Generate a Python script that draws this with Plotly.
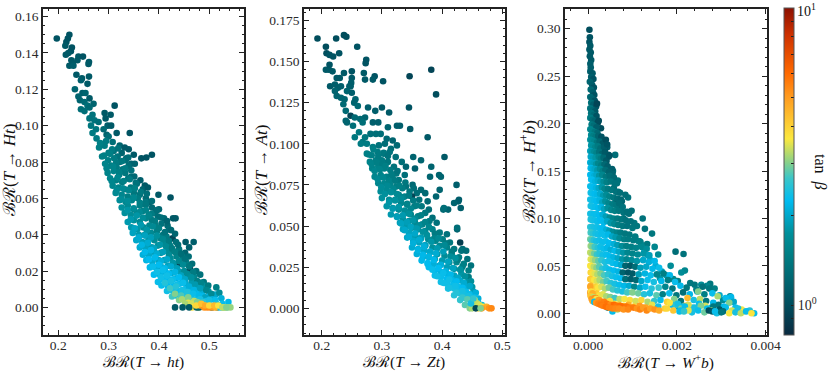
from plotly.subplots import make_subplots
import plotly.graph_objs as go
import numpy as np

# BR(T -> ht) vs BR(T -> Ht)
ht_x = [
.197,.222,.219,.216,.214,.227,.225,.220,.215,.240,
.249,.226,.261,.260,.222,.229,.238,.230,.236,.247,
.261,.245,.258,.233,.248,.254,.240,.262,.243,.252,
.270,.258,.312,.262,.245,.252,.292,.304,.268,.294,
.262,.272,.280,.265,.298,.305,.275,.342,.290,.268,
.316,.296,.276,.300,.285,.308,.322,.332,.365,.375,
.386,.281,.292,.310,.326,.340,.300,.318,.335,.350,
.287,.299,.311,.322,.334,.345,.293,.305,.316,.328,
.340,.352,.298,.310,.321,.333,.345,.303,.315,.327,
.339,.351,.363,.372,.308,.320,.332,.344,.356,.368,
.378,.314,.326,.338,.350,.362,.374,.399,.322,.334,
.346,.358,.370,.382,.326,.338,.350,.362,.374,.386,
.423,.332,.344,.356,.368,.380,.392,.400,.338,.350,
.362,.374,.386,.398,.410,.428,.345,.357,.369,.381,
.393,.405,.417,.348,.360,.372,.384,.396,.408,.420,
.433,.355,.367,.379,.391,.403,.415,.427,.453,.362,
.374,.386,.398,.410,.422,.434,.469,.368,.380,.392,
.404,.416,.428,.440,.452,.460,.375,.387,.399,.411,
.423,.435,.447,.459,.382,.394,.406,.418,.430,.442,
.454,.466,.390,.402,.414,.426,.438,.450,.462,.474,
.398,.410,.422,.434,.446,.458,.470,.482,.405,.417,
.429,.441,.453,.465,.477,.489,.416,.428,.440,.452,
.464,.476,.488,.498,.426,.438,.450,.462,.474,.486,
.498,.514,.440,.452,.464,.476,.488,.500,.512,.520,
.283,.295,.307,.319,.291,.303,.315,.327,.339,.296,
.309,.321,.333,.345,.306,.318,.330,.342,.354,.316,
.328,.340,.352,.364,.376,.326,.338,.350,.362,.374,
.386,.338,.350,.362,.374,.386,.396,.344,.356,.368,
.380,.392,.404,.416,.352,.364,.376,.388,.400,.412,
.424,.360,.372,.384,.396,.408,.420,.432,.366,.378,
.390,.402,.414,.426,.438,.372,.384,.396,.408,.420,
.432,.444,.380,.392,.404,.416,.428,.440,.452,.388,
.400,.412,.424,.436,.448,.460,.396,.408,.420,.432,
.444,.456,.468,.404,.416,.428,.440,.452,.464,.476,
.412,.424,.436,.448,.460,.472,.484,.422,.434,.446,
.458,.470,.482,.494,.432,.444,.456,.468,.480,.492,
.504,.446,.458,.470,.482,.494,.506,.458,.470,.482,
.452,.464,.476,.488,.500,.512,.524,.466,.478,.490,
.502,.514,.526,.538,.432,.447,.460,.475,.480,.505,
.516,.528,.536,.542,.482,.490,.496,.502,.508,.514,
.522,.530,.474,.484,.492,.500,.510,.518,.526,.534,
]
ht_y = [
.148,.150,.148,.146,.144,.143,.141,.140,.139,.138,
.138,.136,.135,.134,.133,.134,.136,.133,.128,.126,
.127,.125,.123,.120,.118,.118,.116,.115,.114,.113,
.112,.111,.111,.110,.109,.108,.107,.106,.106,.104,
.104,.103,.102,.100,.100,.100,.098,.096,.098,.096,
.096,.095,.093,.094,.090,.091,.089,.088,.082,.0825,
.084,.088,.089,.086,.085,.087,.085,.083,.082,.084,
.083,.081,.082,.080,.081,.079,.079,.078,.077,.076,
.078,.079,.074,.075,.073,.074,.072,.071,.070,.069,
.071,.072,.070,.067,.067,.066,.065,.066,.068,.065,
.066,.063,.062,.061,.063,.062,.060,.062,.059,.058,
.059,.060,.057,.058,.055,.056,.054,.056,.058,.055,
.0605,.052,.051,.052,.053,.051,.052,.054,.047,.048,
.047,.049,.048,.050,.049,.049,.044,.043,.044,.045,
.045,.046,.045,.041,.040,.040,.041,.042,.040,.043,
.049,.037,.036,.037,.037,.038,.039,.038,.036,.033,
.033,.033,.034,.035,.034,.036,.036,.029,.029,.030,
.030,.031,.031,.032,.030,.033,.026,.025,.026,.026,
.027,.028,.028,.028,.022,.022,.022,.023,.024,.024,
.025,.024,.018,.018,.019,.019,.020,.020,.021,.020,
.014,.015,.015,.016,.016,.017,.017,.018,.012,.012,
.012,.013,.013,.014,.014,.014,.009,.009,.009,.010,
.010,.011,.012,.012,.006,.006,.007,.007,.008,.008,
.009,.011,.004,.004,.005,.005,.006,.006,.007,.008,
.0905,.0915,.087,.0875,.0835,.0845,.0795,.0805,.0825,.0765,
.0775,.0745,.0765,.0755,.0695,.0715,.0695,.0705,.0685,.0645,
.0655,.0645,.0655,.0635,.0625,.0595,.0585,.0605,.0575,.0565,
.0585,.0535,.0545,.0525,.0535,.0515,.0535,.0485,.0505,.0495,
.0505,.0475,.0495,.0475,.0435,.0455,.0425,.0445,.0435,.0415,
.0425,.0385,.0395,.0385,.0395,.0375,.0365,.0405,.0345,.0355,
.0325,.0345,.0335,.0325,.0345,.0305,.0315,.0295,.0305,.0285,
.0305,.0295,.0265,.0275,.0255,.0265,.0245,.0255,.0265,.0225,
.0235,.0215,.0225,.0215,.0235,.0225,.0195,.0205,.0185,.0195,
.0175,.0185,.0195,.0165,.0175,.0155,.0165,.0155,.0165,.0145,
.0135,.0145,.0125,.0135,.0115,.0125,.0135,.0105,.0115,.0095,
.0085,.0095,.0105,.0095,.0075,.0065,.0085,.0075,.0065,.0055,
.0075,.0045,.0055,.0035,.0045,.0035,.0045,.0025,.0035,.0025,
.002,.002,.003,.003,.004,.004,.005,.000,.000,.001,
.001,.002,.002,.003,.000,.000,.000,.000,.000,.000,
.000,.000,.000,.000,.001,.000,.000,.000,.000,.000,
.000,.000,.001,.002,.001,.001,.001,.001,.000,.000,
]
ht_tb = [
1.05,1.05,1.05,1.05,1.1,1.05,1.05,1.1,1.1,1.1,
1.05,1.1,1.1,1.1,1.1,1.1,1.1,1.15,1.1,1.1,
1.1,1.15,1.1,1.2,1.15,1.2,1.2,1.1,1.2,1.25,
1.2,1.3,1.05,1.25,1.3,1.3,1.1,1.1,1.35,1.1,
1.35,1.35,1.3,1.4,1.15,1.1,1.4,1.05,1.25,1.45,
1.1,1.2,1.45,1.3,1.45,1.3,1.2,1.1,1.05,1.05,
1.05,1.5,1.45,1.35,1.2,1.1,1.45,1.35,1.25,1.1,
1.5,1.5,1.45,1.35,1.3,1.2,1.55,1.5,1.45,1.4,
1.3,1.2,1.55,1.55,1.45,1.4,1.3,1.6,1.5,1.45,
1.35,1.25,1.15,1.1,1.6,1.55,1.5,1.4,1.3,1.2,
1.1,1.65,1.6,1.5,1.4,1.35,1.25,1.1,1.7,1.6,
1.55,1.45,1.35,1.2,1.75,1.65,1.55,1.5,1.4,1.25,
1.05,1.75,1.7,1.6,1.5,1.4,1.3,1.2,1.85,1.75,
1.65,1.55,1.45,1.3,1.25,1.1,1.85,1.8,1.7,1.6,
1.5,1.35,1.25,1.95,1.85,1.75,1.65,1.5,1.4,1.3,
1.1,2.0,1.9,1.8,1.7,1.55,1.45,.95,1.1,2.05,
1.95,1.85,1.75,1.65,1.5,1.3,1.15,2.1,2.0,1.9,
1.8,1.7,1.55,1.4,1.2,1.15,2.15,2.05,1.95,1.85,
1.7,1.55,1.4,1.3,2.2,2.1,2.05,1.95,1.8,.95,
1.5,1.3,2.25,2.15,2.1,2.0,1.85,1.7,.95,1.3,
2.3,2.25,2.2,2.1,1.95,1.8,1.6,1.35,2.3,2.25,
2.25,2.2,2.05,1.85,1.7,1.4,2.35,2.35,2.3,2.3,
2.2,2.0,1.75,1.45,2.7,2.5,2.4,2.3,2.25,2.1,
1.8,1.5,3.0,2.9,2.6,2.4,2.3,2.2,2.0,1.7,
1.5,1.45,1.45,1.35,1.5,1.5,1.45,1.4,1.3,1.55,
1.55,1.5,1.45,1.35,1.6,1.6,1.5,1.45,1.35,1.65,
1.65,1.6,1.5,1.4,1.3,1.7,1.7,1.6,1.5,1.4,
1.3,1.8,1.7,1.65,1.55,1.45,1.3,1.85,1.8,1.7,
1.55,1.45,1.3,1.2,1.95,1.85,1.8,1.65,1.5,1.35,
1.25,2.05,1.95,1.9,1.75,1.6,1.45,1.2,2.15,2.05,
1.95,1.8,1.65,1.45,1.3,2.2,2.15,2.05,1.9,1.7,
1.5,1.3,2.25,2.2,2.1,2.0,1.8,1.6,1.35,2.3,
2.25,2.2,2.05,1.9,1.65,1.4,2.35,2.3,2.25,2.15,
1.95,1.7,1.45,2.35,2.35,2.3,2.25,2.0,1.75,1.5,
2.5,2.4,2.35,2.3,2.1,1.85,1.55,2.7,2.5,2.4,
2.3,2.15,1.9,1.6,3.0,2.75,2.45,2.3,2.2,1.95,
1.65,3.2,3.0,2.6,2.4,2.3,2.1,3.5,3.3,2.8,
3.2,3.4,3.0,2.6,2.4,2.3,2.1,3.7,3.6,3.3,
2.8,2.4,2.3,2.2,1.1,1.1,1.1,1.15,1.2,1.3,
1.4,2.2,3.0,3.1,5.0,5.2,5.4,5.3,5.0,4.6,
2.4,3.4,3.9,4.3,4.7,3.9,4.4,3.7,3.3,3.0,
]

# BR(T -> Zt) vs BR(T -> At)
zt_x = [
.193,.237,.241,.224,.259,.207,.208,.213,.219,.229,
.274,.273,.207,.212,.218,.213,.346,.382,.250,.270,
.237,.230,.225,.250,.272,.288,.285,.302,.249,.248,
.214,.222,.227,.222,.232,.246,.242,.390,.225,.250,
.232,.238,.256,.254,.236,.260,.277,.300,.240,.345,
.289,.312,.272,.248,.255,.242,.264,.285,.294,.347,
.268,.240,.252,.330,.310,.325,.376,.404,.255,.262,
.268,.272,.281,.290,.298,.308,.318,.352,.265,.275,
.285,.295,.305,.315,.325,.340,.355,.275,.283,.293,
.303,.313,.323,.382,.280,.290,.300,.310,.320,.333,
.395,.365,.284,.294,.304,.314,.324,.338,.351,.380,
.398,.288,.298,.308,.318,.328,.340,.353,.365,.424,
.294,.304,.314,.324,.334,.346,.358,.372,.396,.428,
.298,.308,.318,.328,.338,.350,.362,.376,.390,.300,
.312,.322,.332,.342,.354,.366,.378,.402,.427,.431,
.308,.318,.328,.338,.348,.360,.372,.384,.410,.420,
.315,.325,.335,.345,.355,.367,.379,.391,.403,.330,
.340,.350,.360,.372,.384,.396,.408,.425,.430,.335,
.345,.355,.365,.377,.389,.401,.413,.425,.434,.342,
.352,.362,.372,.384,.396,.408,.420,.432,.440,.350,
.360,.370,.380,.392,.404,.416,.428,.442,.358,.368,
.378,.388,.400,.412,.424,.436,.448,.366,.376,.386,
.396,.408,.420,.432,.444,.378,.388,.398,.408,.420,
.432,.444,.388,.398,.408,.418,.430,.442,.398,.408,
.418,.428,.440,.450,.410,.420,.430,.440,.452,.420,
.430,.440,.450,.460,.430,.440,.450,.460,.438,.448,
.278,.286,.294,.303,.283,.292,.301,.310,.288,.297,
.306,.316,.326,.293,.302,.312,.322,.299,.309,.319,
.329,.339,.305,.315,.325,.335,.345,.312,.322,.332,
.342,.352,.318,.328,.338,.348,.358,.325,.335,.345,
.355,.365,.332,.342,.352,.362,.372,.338,.348,.358,
.368,.378,.388,.345,.355,.365,.375,.387,.352,.362,
.372,.382,.394,.406,.360,.370,.380,.392,.404,.416,
.368,.378,.390,.402,.414,.426,.376,.386,.398,.410,
.422,.434,.384,.394,.406,.418,.430,.392,.402,.414,
.426,.438,.402,.412,.424,.436,.448,.412,.422,.434,
.446,.424,.434,.446,.456,.434,.444,.454,.442,.452,
.458,.466,.446,.456,.464,.450,.454,.458,.462,.466,
.470,.474,.478,.482,.448,.452,.460,.466,.456,.464,
]
zt_y = [
.164,.166,.165,.164,.159,.159,.155,.154,.153,.155,
.151,.149,.145,.145,.144,.148,.141,.145,.144,.143,
.143,.140,.140,.140,.139,.141,.139,.138,.137,.135,
.135,.136,.134,.132,.135,.135,.132,.130,.129,.131,
.128,.127,.127,.125,.124,.123,.122,.122,.120,.122,
.120,.119,.116,.117,.116,.113,.115,.113,.113,.109,
.113,.114,.111,.111,.110,.111,.104,.092,.104,.107,
.101,.104,.106,.106,.106,.103,.102,.092,.100,.100,
.098,.099,.100,.097,.099,.086,.085,.094,.093,.095,
.094,.095,.092,.086,.089,.090,.090,.089,.086,.089,
.081,.090,.085,.086,.085,.084,.082,.081,.075,.080,
.080,.080,.081,.080,.079,.078,.074,.073,.072,.075,
.076,.076,.075,.074,.073,.071,.070,.070,.072,.066,
.071,.072,.071,.069,.068,.068,.066,.065,.068,.067,
.066,.066,.064,.063,.062,.062,.060,.060,.065,.061,
.062,.061,.060,.058,.057,.056,.058,.055,.060,.064,
.057,.056,.054,.053,.052,.051,.053,.052,.061,.052,
.050,.049,.048,.047,.048,.046,.045,.048,.040,.048,
.046,.044,.043,.042,.041,.042,.040,.049,.036,.043,
.041,.040,.038,.037,.038,.037,.036,.035,.035,.037,
.036,.035,.034,.033,.032,.033,.031,.030,.033,.031,
.031,.030,.029,.028,.028,.027,.026,.029,.027,.027,
.026,.025,.024,.024,.023,.025,.023,.022,.021,.020,
.021,.019,.020,.019,.018,.017,.017,.016,.016,.015,
.014,.013,.013,.013,.012,.012,.011,.010,.010,.008,
.009,.008,.007,.006,.005,.006,.004,.003,.002,.003,
.0935,.0965,.0925,.0945,.0875,.0885,.0875,.0925,.0835,.0845,
.0865,.0815,.0835,.0785,.0795,.0775,.0775,.0735,.0745,.0725,
.0745,.0765,.0695,.0705,.0695,.0675,.0685,.0645,.0655,.0665,
.0635,.0655,.0605,.0615,.0595,.0605,.0625,.0555,.0565,.0575,
.0545,.0565,.0515,.0525,.0535,.0505,.0525,.0475,.0495,.0485,
.0465,.0495,.0455,.0435,.0455,.0425,.0445,.0425,.0395,.0415,
.0385,.0405,.0425,.0395,.0355,.0375,.0345,.0365,.0385,.0345,
.0325,.0315,.0335,.0345,.0315,.0295,.0275,.0295,.0265,.0285,
.0305,.0255,.0235,.0245,.0225,.0245,.0235,.0195,.0215,.0205,
.0185,.0195,.0155,.0175,.0165,.0155,.0165,.0125,.0135,.0125,
.0135,.0095,.0105,.0085,.0095,.0065,.0075,.0065,.0055,.0045,
.001,.002,.000,.001,.001,.000,.005,.003,.002,.001,
.001,.001,.000,.000,.003,.006,.000,.000,.000,.000,
]
zt_tb = [
1.0,1.0,1.0,1.0,1.05,1.0,1.0,1.05,1.05,1.05,
1.05,1.05,1.1,1.1,1.1,1.05,.95,.95,1.05,1.1,
1.1,1.1,1.1,1.1,1.1,1.05,1.1,1.05,1.15,1.15,
1.1,1.15,1.15,1.2,1.15,1.15,1.2,1.0,1.2,1.15,
1.2,1.2,1.2,1.2,1.25,1.25,1.15,1.1,1.25,1.05,
1.15,1.1,1.2,.95,1.25,1.2,1.25,1.15,1.15,1.1,
1.3,1.2,1.3,1.15,1.2,1.15,1.1,1.1,1.4,1.4,
1.4,1.4,1.3,1.3,1.3,1.25,1.2,1.2,1.45,1.45,
1.45,1.35,1.3,1.3,1.25,1.2,1.15,1.5,1.5,1.45,
1.4,1.35,1.3,1.2,1.55,1.5,1.45,1.4,1.35,1.3,
1.2,1.2,1.55,1.55,1.5,1.45,1.4,1.3,1.25,1.2,
1.2,1.6,1.55,1.5,1.45,1.4,1.35,1.3,1.25,1.15,
1.6,1.6,1.55,1.5,1.45,1.4,1.3,1.25,1.2,1.15,
1.7,1.65,1.6,1.55,1.5,.95,1.35,1.25,1.2,1.75,
1.7,1.65,1.6,1.55,1.45,1.4,1.3,1.25,1.15,1.15,
1.8,1.75,1.7,1.65,1.6,1.5,1.4,1.3,1.2,1.2,
1.85,1.8,1.75,1.7,1.65,1.55,1.45,1.35,1.3,1.9,
1.85,1.8,1.75,1.65,1.55,1.45,1.35,1.2,.9,1.95,
1.95,1.85,1.8,1.7,1.6,1.5,1.4,1.3,1.3,2.0,
2.0,1.95,1.85,1.75,1.65,1.55,1.4,1.35,1.3,2.05,
2.05,2.0,1.9,1.8,1.7,1.6,1.45,1.35,2.1,2.1,
2.05,1.95,1.85,1.75,1.6,1.5,1.35,2.2,2.15,2.1,
2.0,1.9,1.8,1.65,1.5,2.25,2.2,2.15,2.1,1.95,
1.8,1.45,2.3,2.3,2.25,2.2,2.0,1.8,2.35,2.35,
2.3,2.3,2.1,1.8,2.4,2.4,2.35,2.3,1.9,2.5,
2.45,2.4,2.35,2.1,2.6,2.5,2.4,2.3,2.8,2.6,
1.5,1.5,1.45,1.4,1.55,1.5,1.45,1.35,1.6,1.55,
1.5,1.45,1.35,1.65,1.6,1.55,1.45,1.7,1.65,1.6,
1.5,1.4,1.75,1.7,1.65,1.55,1.45,1.8,1.75,1.65,
1.55,1.45,1.85,1.8,1.7,1.6,1.5,1.9,1.85,1.75,
1.65,1.5,1.95,1.9,1.8,1.7,1.55,2.0,1.95,1.85,
1.75,1.6,1.45,2.05,2.0,1.9,1.75,1.55,2.1,2.05,
1.95,1.8,1.65,1.45,2.15,2.1,2.0,1.85,1.65,1.45,
2.2,2.15,2.05,1.9,1.7,1.5,2.25,2.2,2.1,1.95,
1.75,1.5,2.3,2.25,2.15,1.95,1.75,2.35,2.3,2.2,
2.0,1.75,2.35,2.35,2.25,2.05,1.75,2.4,2.35,2.25,
2.0,2.5,2.4,2.3,2.1,2.6,2.4,2.3,2.8,2.5,
2.4,2.2,3.0,3.1,1.1,3.2,3.3,3.3,3.4,3.5,
3.7,4.6,5.2,5.4,2.4,2.6,4.0,5.0,.95,3.0,
]

# BR(T -> W+b) in units of 1e-3 vs BR(T -> H+b)
wb_x_milli = [
1.23,1.97,2.15,1.10,1.28,1.44,.61,.67,.65,.29,
.43,1.06,1.18,1.33,1.50,1.58,2.18,2.10,2.40,2.75,
2.68,2.55,2.85,2.46,3.20,3.16,3.04,2.30,1.92,1.76,
1.66,1.52,1.86,2.02,1.40,1.62,1.35,1.27,1.14,1.20,
.98,.90,.84,.76,.92,1.04,.72,.80,.68,.58,
.62,.70,.52,.48,.56,.41,.37,.33,.46,.28,
.03,.04,.03,.05,.03,.06,.04,.07,.05,.06,
.05,.10,.07,.12,.04,.09,.13,.06,.11,.14,
.05,.09,.15,.07,.12,.18,.05,.10,.16,.20,
.07,.13,.19,.05,.10,.15,.22,.08,.13,.19,
.24,.05,.10,.15,.21,.07,.12,.17,.23,.30,
.05,.09,.14,.20,.26,.33,.40,.07,.11,.16,
.22,.28,.36,.43,.05,.09,.14,.19,.25,.31,
.38,.46,.06,.11,.17,.24,.29,.35,.41,.48,
.05,.08,.13,.18,.23,.30,.37,.44,.54,.06,
.10,.15,.21,.27,.33,.39,.47,.55,.05,.09,
.14,.19,.25,.32,.40,.49,.58,.07,.11,.16,
.22,.28,.35,.42,.51,.60,.05,.08,.13,.18,
.24,.31,.37,.45,.53,.63,.72,.06,.10,.15,
.21,.27,.34,.41,.48,.57,.66,.74,.05,.09,
.14,.19,.26,.32,.39,.46,.55,.64,.70,.78,
.06,.11,.16,.23,.29,.36,.44,.52,.60,.69,
.80,.88,.05,.08,.13,.19,.25,.33,.40,.49,
.57,.66,.75,.85,.96,.06,.10,.15,.21,.28,
.35,.43,.51,.59,.68,.78,.88,1.00,.05,.09,
.14,.20,.27,.33,.41,.48,.56,.65,.73,.83,
.93,1.06,.06,.11,.17,.23,.30,.37,.45,.54,
.62,.71,.81,.90,1.02,1.16,.05,.08,.13,.18,
.25,.32,.40,.47,.58,.66,.76,.86,.97,1.08,
1.21,1.32,.06,.10,.15,.22,.28,.35,.43,.51,
.60,.69,.79,.89,1.00,1.12,1.25,1.38,.05,.09,
.14,.20,.26,.33,.41,.49,.57,.67,.77,.87,
.98,1.10,1.24,1.37,1.50,.06,.11,.16,.23,.30,
.38,.46,.55,.64,.74,.84,.95,1.06,1.18,1.31,
1.45,1.60,.05,.08,.13,.19,.25,.32,.40,.48,
.58,.68,.78,.90,1.00,1.14,1.28,1.41,1.55,1.70,
1.84,.06,.10,.15,.21,.28,.36,.45,.54,.63,
.73,.84,.96,1.08,1.20,1.34,1.48,1.65,1.80,1.96,
.05,.09,.14,.20,.26,.34,.42,.51,.60,.70,
.81,.92,1.04,1.17,1.29,1.43,1.59,1.74,1.90,2.08,
2.22,2.44,2.58,2.73,.06,.11,.16,.23,.30,.38,
.47,.56,.66,.77,.88,1.00,1.13,1.26,1.39,1.54,
1.68,1.83,1.99,2.14,2.29,2.48,2.62,2.80,2.96,3.22,
.05,.09,.14,.19,.26,.33,.41,.50,.60,.71,
.82,.94,1.07,1.20,1.34,1.49,1.63,1.78,1.94,2.09,
2.24,2.38,2.52,2.66,2.82,2.92,3.10,3.28,.06,.11,
.17,.24,.31,.40,.49,.59,.69,.80,.91,1.03,
1.16,1.30,1.44,1.58,1.73,1.88,2.03,2.18,2.34,2.50,
2.64,2.78,2.94,3.06,3.18,3.32,3.46,.44,.55,.66,
1.84,1.98,2.12,2.26,2.40,2.54,2.68,2.82,2.96,3.10,
3.24,3.38,3.50,3.64,3.74,1.78,1.92,2.06,2.20,2.34,
2.48,2.62,2.76,2.90,3.04,3.18,3.32,3.44,3.56,3.68,
2.02,2.10,2.18,2.26,2.08,2.16,2.72,2.80,2.86,3.00,
.05,.07,.10,.06,.12,.08,.15,.10,.19,.14,
.24,.18,.30,.23,.36,.28,.42,.33,.50,.40,
.58,.47,.64,.55,.72,.62,.78,.70,.86,.80,
.94,.90,1.02,1.10,1.17,1.24,1.32,1.40,1.50,1.60,
]
wb_y = [
.100,.065,.0625,.092,.089,.084,.167,.140,.137,.195,
.175,.080,.075,.073,.070,.062,.045,.043,.030,.031,
.029,.030,.026,.023,.018,.015,.014,.032,.036,.040,
.044,.050,.050,.034,.056,.037,.061,.066,.076,.072,
.108,.122,.125,.118,.105,.095,.110,.100,.128,.132,
.120,.113,.140,.146,.150,.160,.172,.178,.165,.183,
.299,.291,.286,.282,.278,.275,.271,.267,.263,.259,
.255,.253,.249,.247,.244,.241,.238,.236,.233,.230,
.228,.226,.224,.222,.220,.218,.216,.214,.213,.221,
.211,.209,.208,.206,.204,.203,.201,.199,.198,.196,
.203,.194,.192,.191,.190,.188,.187,.186,.187,.186,
.183,.182,.181,.180,.181,.179,.183,.177,.176,.175,
.176,.174,.175,.178,.171,.170,.170,.169,.170,.168,
.170,.167,.165,.164,.164,.165,.163,.164,.161,.166,
.159,.158,.158,.157,.158,.156,.157,.155,.152,.153,
.152,.152,.151,.152,.150,.151,.149,.147,.146,.146,
.145,.146,.145,.146,.144,.145,.143,.141,.140,.139,
.140,.139,.139,.138,.139,.137,.134,.133,.133,.132,
.132,.133,.131,.131,.130,.128,.127,.127,.126,.126,
.125,.126,.124,.125,.123,.122,.121,.120,.120,.119,
.119,.118,.119,.117,.118,.116,.115,.114,.116,.112,
.113,.112,.112,.111,.112,.110,.111,.109,.108,.108,
.106,.107,.105,.105,.104,.105,.103,.104,.102,.101,
.100,.100,.099,.098,.097,.099,.098,.098,.097,.098,
.096,.097,.095,.094,.093,.092,.092,.090,.091,.091,
.090,.091,.089,.090,.088,.087,.086,.085,.085,.084,
.083,.081,.085,.084,.084,.083,.084,.082,.083,.081,
.080,.079,.078,.078,.077,.076,.078,.077,.077,.076,
.077,.075,.076,.074,.073,.072,.071,.071,.070,.069,
.070,.068,.071,.070,.070,.069,.070,.068,.069,.067,
.066,.065,.064,.064,.063,.062,.063,.061,.064,.063,
.063,.062,.063,.061,.062,.060,.059,.058,.057,.057,
.056,.055,.056,.054,.055,.057,.056,.056,.055,.056,
.054,.055,.053,.052,.051,.050,.050,.049,.048,.049,
.047,.048,.050,.049,.049,.048,.049,.047,.048,.046,
.045,.044,.043,.043,.042,.041,.042,.040,.041,.042,
.040,.043,.042,.042,.041,.042,.040,.041,.039,.038,
.037,.036,.036,.035,.034,.035,.033,.034,.035,.033,
.036,.035,.035,.034,.035,.033,.034,.032,.031,.030,
.029,.029,.028,.027,.028,.026,.027,.028,.026,.029,
.027,.025,.028,.026,.029,.028,.028,.027,.028,.026,
.027,.025,.024,.023,.022,.022,.021,.020,.021,.019,
.020,.021,.019,.022,.020,.023,.020,.021,.019,.017,
.022,.021,.020,.021,.019,.020,.018,.017,.016,.015,
.015,.014,.013,.014,.012,.013,.014,.012,.015,.013,
.016,.014,.015,.013,.011,.018,.016,.012,.019,.017,
.016,.014,.012,.011,.013,.010,.009,.008,.009,.007,
.008,.006,.009,.007,.005,.009,.007,.008,.006,.010,
.008,.006,.009,.007,.011,.006,.004,.006,.002,.004,
.011,.009,.007,.009,.006,.008,.005,.007,.004,.006,
.003,.005,.002,.003,.000,.005,.003,.002,.004,.001,
.003,.001,.003,.000,.002,.000,.001,.000,.002,.000,
.010,.005,.007,.003,.003,.002,.003,.002,.002,.001,
.028,.023,.021,.018,.017,.015,.016,.013,.015,.012,
.014,.011,.012,.010,.012,.009,.010,.008,.009,.007,
.009,.006,.008,.005,.008,.005,.007,.005,.007,.004,
.006,.004,.006,.005,.004,.006,.003,.005,.004,.003,
]
wb_tb = [
1.35,1.3,1.35,1.4,1.35,1.4,1.3,1.35,1.35,1.0,
1.15,1.45,1.5,1.4,1.6,1.7,1.6,1.7,1.4,1.4,
1.6,1.7,1.5,1.9,1.6,1.3,1.7,1.4,1.6,1.9,
1.9,2.1,1.7,1.5,2.1,1.8,1.9,2.0,1.5,1.6,
1.3,1.35,1.3,1.2,1.3,1.4,1.25,1.3,1.4,1.3,
1.2,1.15,1.2,1.15,1.3,1.1,1.0,1.1,1.05,1.0,
1.0,1.05,1.05,1.1,1.1,1.1,1.1,1.1,1.15,1.15,
1.15,1.1,1.15,1.05,1.2,1.15,1.05,1.25,1.15,1.05,
1.25,1.2,1.05,1.3,1.15,1.05,1.35,1.25,1.1,.95,
1.35,1.25,1.05,1.45,1.3,1.2,1.0,1.45,1.3,1.15,
1.0,1.6,1.55,1.4,1.25,1.65,1.5,1.4,1.2,1.05,
1.75,1.7,1.6,1.4,1.25,1.1,1.0,1.8,1.75,1.6,
1.45,1.3,1.15,1.05,1.9,1.8,1.7,1.55,1.35,1.2,
1.1,1.1,2.0,1.9,1.8,1.6,1.45,1.25,1.1,1.05,
2.1,2.0,1.95,1.8,1.6,1.45,1.25,1.15,1.15,2.2,
2.1,2.0,1.85,1.7,1.5,1.3,1.2,1.2,2.25,2.2,
2.1,2.0,1.8,1.6,1.4,1.3,1.25,2.3,2.25,2.15,
2.05,1.9,1.7,1.5,1.4,1.35,2.3,2.3,2.25,2.15,
2.0,1.8,1.6,1.45,1.4,1.35,1.3,2.35,2.3,2.25,
2.2,2.05,1.85,1.7,1.55,1.4,1.3,1.25,2.35,2.35,
2.3,2.25,2.15,1.95,1.75,1.6,1.45,1.4,1.3,1.35,
2.4,2.35,2.3,2.25,2.15,1.95,1.75,1.6,1.5,1.4,
1.35,1.3,2.4,2.35,2.3,2.3,2.25,2.1,1.9,1.7,
1.55,1.45,1.4,1.35,1.35,2.45,2.4,2.35,2.3,2.25,
2.2,2.0,1.8,1.65,1.5,1.4,1.35,1.4,2.55,2.45,
2.4,2.35,2.3,2.25,2.1,1.9,1.7,1.55,1.45,1.4,
1.4,1.45,2.7,2.55,2.4,2.35,2.3,2.3,2.2,2.0,
1.85,1.65,1.5,1.45,1.45,1.5,2.9,2.75,2.55,2.4,
2.35,2.3,2.3,2.25,2.1,1.9,1.7,1.5,1.5,1.55,
1.6,1.7,3.1,2.95,2.7,2.5,2.35,2.3,2.2,2.1,
2.2,2.0,1.8,1.6,1.55,1.65,1.8,1.9,3.3,3.2,
2.9,2.65,2.5,2.35,2.3,2.25,2.15,2.0,1.8,1.6,
1.7,1.8,2.0,2.1,2.2,3.5,3.35,3.1,2.85,2.6,
2.45,2.35,2.3,2.2,2.05,1.2,1.1,1.3,1.9,2.0,
2.2,2.3,3.7,3.6,3.3,3.05,2.8,2.55,2.4,2.3,
2.25,2.15,1.2,1.05,1.1,1.9,2.15,2.3,1.6,1.5,
2.2,3.9,3.75,3.5,3.25,3.0,2.75,2.55,2.4,2.3,
2.25,1.3,1.15,1.25,2.0,2.3,2.4,2.2,1.5,2.3,
4.2,4.0,3.7,3.45,3.2,2.95,2.7,2.5,2.4,2.3,
2.2,2.05,1.6,2.0,2.3,2.5,2.6,1.6,1.4,2.2,
1.4,1.5,1.35,1.4,4.5,4.3,4.0,3.7,3.45,3.2,
2.9,2.7,2.5,2.4,2.7,3.0,2.9,2.5,2.4,2.8,
1.5,2.3,1.4,1.3,2.2,3.0,1.5,2.3,2.0,2.2,
4.8,4.6,4.4,4.1,3.8,3.5,3.2,3.0,2.7,3.3,
3.6,3.8,3.4,3.9,3.2,2.6,2.3,4.0,3.0,1.4,
4.4,2.4,3.3,1.4,2.2,3.2,2.3,2.0,5.0,5.0,
5.2,5.0,4.6,4.2,3.8,3.6,4.2,3.6,4.6,4.0,
5.0,4.8,3.5,2.4,4.0,2.3,1.9,4.6,2.8,2.3,
3.4,2.3,1.4,2.2,3.0,2.3,3.6,1.5,2.3,3.2,
3.7,2.6,2.3,3.4,2.4,3.0,2.3,1.4,1.1,2.3,
3.4,2.4,3.6,2.5,2.3,3.9,4.2,2.3,3.0,2.4,
2.3,2.9,3.2,2.4,1.3,3.6,2.4,3.3,2.3,3.7,
2.4,3.0,2.3,3.5,2.3,2.6,1.0,1.1,2.3,1.4,
4.8,3.8,4.6,4.2,3.3,5.0,5.2,4.8,3.6,2.3,
5.0,5.2,5.4,5.5,5.6,5.7,5.8,5.6,5.4,5.9,
6.0,5.6,5.8,5.5,5.9,5.4,6.0,5.3,5.8,5.2,
5.6,5.4,5.7,5.2,5.5,5.0,5.4,4.9,5.2,4.7,
5.3,4.8,5.0,5.2,4.7,5.1,4.6,5.3,5.0,4.4,
]

cbar_minor_vals = [.8, .9, 2, 3, 4, 5, 6, 7, 8, 9]

tanb_colorscale = [
    [0.0, '#0a2a40'], [0.1, '#00505f'], [0.25, '#007f85'], [0.31, '#008f9a'], [0.36, '#00a5c5'],
    [0.41, '#00bbf0'], [0.48, '#3cc6c8'], [0.526, '#85d08c'], [0.6, '#fbe83f'],
    [0.73, '#ff9a1f'], [0.8, '#ff6a00'], [0.92, '#cc3000'], [1.0, '#8b1000'],
]

TEXT = '#2a2a2a'
FONT = 'Liberation Serif'


def br_title(final_state):
    return '\u212c\u211b(<i>T</i> \u2192 ' + final_state + ')'


def add_panel(fig, col, x, y, tanb, showscale=False):
    marker = dict(size=6.6, color=np.log10(tanb), colorscale=tanb_colorscale, cmin=-0.1, cmax=1.0,
                  line_width=0, opacity=1, showscale=showscale)
    if showscale:
        cbar_ticks = list(np.log10(cbar_minor_vals)) + [0.0]
        cbar_text = [' '] * len(cbar_minor_vals) + ['10<sup>0</sup>']
        marker['colorbar'] = dict(x=784 / 830, xanchor='left', xpad=0, y=1 - 8 / 374, yanchor='top', ypad=0,
                                  len=327 / 374, thickness=10, outlinecolor='#555555', outlinewidth=1,
                                  tickmode='array', tickvals=cbar_ticks, ticktext=cbar_text,
                                  ticks='inside', ticklen=3, tickcolor='#222222', tickwidth=1,
                                  tickfont=dict(family=FONT, size=14, color=TEXT))
    fig.add_trace(go.Scatter(x=x, y=y, mode='markers', marker=marker, showlegend=False, hoverinfo='skip'), row=1, col=col)


fig = make_subplots(rows=1, cols=3)
add_panel(fig, 1, ht_x, ht_y, ht_tb)
add_panel(fig, 2, zt_x, zt_y, zt_tb)
add_panel(fig, 3, np.array(wb_x_milli) / 1000, wb_y, wb_tb, showscale=True)

axis_style = dict(showgrid=False, zeroline=False, showline=True, linecolor='#222222', linewidth=1.5, mirror='allticks',
                  ticks='inside', ticklen=5, tickwidth=1, tickcolor='#222222', automargin=False,
                  tickfont=dict(family=FONT, size=13.5, color=TEXT))
minor_style = dict(ticks='inside', ticklen=2.5, tickwidth=1, tickcolor='#222222')

fig.update_xaxes(axis_style)
fig.update_yaxes(axis_style)
fig.update_xaxes(ticklabelstandoff=-3)

y_domain = [1 - 335 / 374, 1 - 9 / 374]
fig.update_xaxes(domain=[43 / 830, 244 / 830], range=[0.1696, 0.569], dtick=0.1, tick0=0, tickformat='.1f',
                 minor=dict(dtick=0.02, **minor_style), row=1, col=1)
fig.update_yaxes(domain=y_domain, range=[-0.0152, 0.1642], dtick=0.02, tick0=0, tickformat='.2f',
                 minor=dict(dtick=0.005, **minor_style), row=1, col=1)
fig.update_xaxes(domain=[304 / 830, 505 / 830], range=[0.1706, 0.5045], dtick=0.1, tick0=0, tickformat='.1f',
                 minor=dict(dtick=0.02, **minor_style), row=1, col=2)
fig.update_yaxes(domain=y_domain, range=[-0.0162, 0.1819], dtick=0.025, tick0=0, tickformat='.3f',
                 minor=dict(dtick=0.005, **minor_style), row=1, col=2)
fig.update_xaxes(domain=[565 / 830, 767 / 830], range=[-0.00052, 0.00403], dtick=0.002, tick0=0, tickformat='.3f',
                 minor=dict(dtick=0.0004, **minor_style), row=1, col=3)
fig.update_yaxes(domain=y_domain, range=[-0.0229, 0.3208], dtick=0.05, tick0=0, tickformat='.2f',
                 minor=dict(dtick=0.01, **minor_style), row=1, col=3)


def add_label(text, px, py, size, angle=0):
    fig.add_annotation(text=text, textangle=angle, xref='paper', yref='paper', x=px / 830, y=1 - py / 374,
                       xanchor='center', yanchor='middle', showarrow=False,
                       font=dict(family=FONT, size=size, color='#111111'))


# axis titles are placed by hand, the y ones sit closer and larger than plotly's own titles allow
add_label(br_title('<i>ht</i>'), 143, 362, 15.5)
add_label(br_title('<i>Zt</i>'), 404, 362, 15.5)
add_label(br_title('<i>W</i><sup>+</sup><i>b</i>'), 666, 361, 15.5)
add_label(br_title('<i>Ht</i>'), 9, 170, 17, -90)
add_label(br_title('<i>At</i>'), 261, 170, 17, -90)
add_label(br_title('<i>H</i><sup>+</sup><i>b</i>'), 528, 172, 17, -90)
add_label('tan  <i>\u03b2</i>', 820, 172, 16, 90)
add_label('10<sup>1</sup>', 806, 10, 14)

fig.update_layout(width=830, height=374, margin=dict(l=0, r=0, t=0, b=0), paper_bgcolor='white', plot_bgcolor='white')

fig.write_html("out.html", post_script="document.body.style.margin='0';", config=dict(displayModeBar=False))
